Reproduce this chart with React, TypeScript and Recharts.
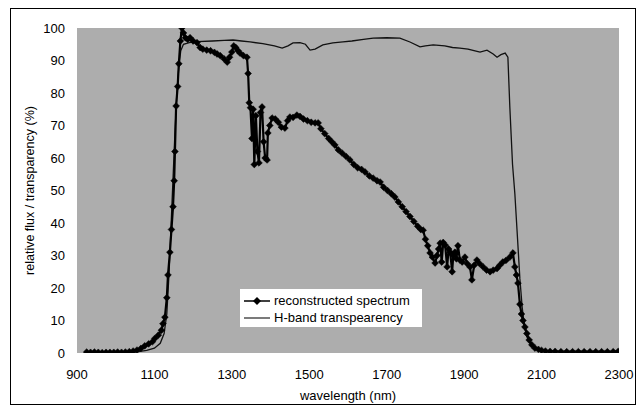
import React from 'react';
import { LineChart, Line, XAxis, YAxis, CartesianGrid } from 'recharts';

const specWl = [925, 935, 945, 955, 965, 975, 985, 995, 1005, 1015, 1025, 1035, 1045, 1055, 1065, 1075, 1085, 1095, 1101, 1110, 1118, 1122, 1127, 1132, 1135, 1140, 1144, 1148, 1151, 1153, 1156, 1160, 1163, 1167, 1171, 1175, 1180, 1186, 1192, 1200, 1210, 1218, 1225, 1235, 1245, 1255, 1262, 1270, 1280, 1288, 1294, 1300, 1305, 1310, 1316, 1321, 1330, 1339, 1342, 1345, 1348, 1352, 1355, 1358, 1362, 1366, 1370, 1374, 1378, 1382, 1386, 1391, 1393, 1398, 1404, 1412, 1420, 1428, 1437, 1444, 1450, 1458, 1468, 1476, 1485, 1495, 1505, 1515, 1523, 1530, 1540, 1550, 1558, 1566, 1575, 1585, 1595, 1605, 1615, 1625, 1635, 1644, 1655, 1665, 1675, 1683, 1692, 1702, 1712, 1721, 1730, 1740, 1750, 1760, 1770, 1780, 1788, 1794, 1800, 1806, 1812, 1818, 1825, 1830, 1834, 1838, 1842, 1846, 1851, 1856, 1860, 1864, 1869, 1872, 1876, 1880, 1884, 1889, 1895, 1902, 1908, 1915, 1920, 1926, 1933, 1940, 1949, 1958, 1967, 1975, 1985, 1992, 2000, 2008, 2018, 2026, 2031, 2035, 2039, 2044, 2048, 2052, 2057, 2062, 2068, 2075, 2083, 2092, 2100, 2110, 2122, 2135, 2150, 2165, 2180, 2195, 2210, 2225, 2240, 2255, 2270, 2285, 2298];
const specVal = [0.3, 0.2, 0.3, 0.2, 0.1, 0.2, 0.2, 0.2, 0.3, 0.2, 0.3, 0.4, 0.6, 0.9, 1.4, 2.2, 2.8, 3.5, 4.5, 5.5, 7, 9, 11, 17, 24, 31, 38, 45, 53, 62, 76, 82, 89, 96, 100, 98.5, 97, 96.5, 97, 96, 95.5, 94, 93.5, 93.2, 93, 92.5, 92, 91.5, 90.5, 89.5, 91, 92.6, 94.5, 94, 93, 92.3, 91.5, 91, 86, 77, 75.5, 66, 75, 58, 73, 62, 58.5, 74, 75.7, 65, 60, 59.4, 67.7, 70, 72.3, 72, 71, 69.5, 69.2, 71.5, 72.6, 72.5, 73.2, 72.8, 72, 71.5, 71, 70.8, 70.8, 69, 67.5, 66, 65, 64, 62.5, 61.5, 60.5, 59.4, 58, 57, 56.5, 55.7, 54.5, 53.8, 53, 52.6, 51, 50, 49, 48, 46.5, 45, 43.5, 42, 40.5, 39, 38, 37.8, 35, 33, 30.8, 29.5, 27.7, 30, 32, 33.8, 28, 34, 33.2, 26.5, 32, 31, 25, 30, 31, 29, 33, 28.6, 28, 29.5, 27.5, 26.5, 22.5, 27, 28.6, 27.5, 26.5, 25.5, 25, 25.5, 26, 27, 28, 28.5, 29.5, 30.8, 26.5, 24, 21.5, 15, 12, 10, 8, 6, 4, 2.5, 1.5, 1.1, 0.8, 0.6, 0.5, 0.5, 0.4, 0.4, 0.4, 0.4, 0.4, 0.4, 0.4, 0.4, 0.4, 0.4, 0.5];

const hbandWl = [920, 960, 1000, 1050, 1080, 1100, 1115, 1125, 1132, 1138, 1145, 1152, 1158, 1163, 1168, 1175, 1190, 1210, 1250, 1280, 1303, 1325, 1347, 1380, 1410, 1430, 1445, 1458, 1476, 1490, 1502, 1515, 1535, 1561, 1587, 1610, 1640, 1665, 1700, 1734, 1760, 1786, 1800, 1820, 1850, 1870, 1889, 1910, 1941, 1959, 1975, 1985, 1995, 2006, 2013, 2018, 2025, 2031, 2038, 2044, 2050, 2056, 2062, 2070, 2080, 2095, 2110, 2150, 2200, 2250, 2300];
const hbandVal = [0.2, 0.2, 0.2, 0.3, 0.8, 1.5, 3, 6, 12, 25, 45, 65, 80, 88, 93, 95, 95.5, 95.8, 96, 96.2, 96.3, 96, 95.7, 95.2, 94.5, 93.8, 94.5, 95.4, 95.5, 95, 93.2, 93.5, 94.8, 95.4, 95.7, 96, 96.5, 96.9, 97, 96.9, 95.7, 94.2, 94.5, 94.8, 94.5, 94, 93.8, 93.5, 92.6, 93.2, 92, 91, 91.8, 92.3, 91, 75.7, 58, 49, 35, 22.8, 14, 8, 5, 3, 1.8, 1, 0.6, 0.4, 0.3, 0.3, 0.3];

const xTicks = [900, 1100, 1300, 1500, 1700, 1900, 2100, 2300];
const yTicks = [0, 10, 20, 30, 40, 50, 60, 70, 80, 90, 100];

const specData = specWl.map((w, i) => ({ wl: w, v: specVal[i] }));
const hbandData = hbandWl.map((w, i) => ({ wl: w, v: hbandVal[i] }));

const FONT = 'Liberation Sans, Arial, sans-serif';

const Diamond = (props: any) => {
  const { cx, cy, index } = props;
  if (cx == null || cy == null) return <g key={index} />;
  const s = 3.4;
  return (
    <path
      key={index}
      d={`M${cx},${cy - s}L${cx + s},${cy}L${cx},${cy + s}L${cx - s},${cy}Z`}
      fill="#000"
      stroke="#000"
      strokeWidth={0.5}
    />
  );
};

const LegendBox = () => (
  <div
    style={{
      position: 'absolute',
      left: 229,
      top: 280,
      background: '#fff',
      width: 182,
      height: 38,
      boxSizing: 'border-box',
      fontFamily: FONT,
      fontSize: 13,
      color: '#000',
      padding: '3px 0 0 3px',
      lineHeight: '17px',
    }}
  >
    <div style={{ display: 'flex', alignItems: 'center', height: 17 }}>
      <svg width={28} height={10} style={{ marginRight: 3 }}>
        <line x1={1} y1={5} x2={27} y2={5} stroke="#000" strokeWidth={1.5} />
        <path d="M14,1L18,5L14,9L10,5Z" fill="#000" />
      </svg>
      <span>reconstructed spectrum</span>
    </div>
    <div style={{ display: 'flex', alignItems: 'center', height: 17 }}>
      <svg width={28} height={10} style={{ marginRight: 3 }}>
        <line x1={1} y1={5} x2={27} y2={5} stroke="#222" strokeWidth={1.2} />
      </svg>
      <span>H-band transpearency</span>
    </div>
  </div>
);

export default function App() {
  return (
    <div
      style={{
        position: 'relative',
        marginLeft: 2,
        width: 626,
        height: 397,
        border: '1px solid #000',
        boxSizing: 'border-box',
        background: '#fff',
      }}
    >
      <LineChart
        width={624}
        height={395}
        margin={{ top: 19, right: 16, left: 0, bottom: 1 }}
      >
        <CartesianGrid horizontal={false} vertical={false} fill="#adadad" />
        <XAxis
          type="number"
          dataKey="wl"
          domain={[900, 2300]}
          ticks={xTicks}
          allowDataOverflow
          axisLine={false}
          tickLine={false}
          tickSize={6}
          tickMargin={11}
          height={50}
          tick={{ fill: '#000', fontSize: 13, fontFamily: FONT }}
          label={{
            value: 'wavelength (nm)',
            position: 'insideBottom',
            offset: 3,
            fill: '#000',
            fontSize: 13,
            fontFamily: FONT,
          }}
        />
        <YAxis
          type="number"
          domain={[0, 100]}
          ticks={yTicks}
          allowDataOverflow
          axisLine={false}
          tickLine={false}
          tickSize={6}
          tickMargin={6}
          width={66}
          tick={{ fill: '#000', fontSize: 13, fontFamily: FONT }}
          label={{
            value: 'relative flux / transparency (%)',
            angle: -90,
            position: 'insideLeft',
            offset: 19,
            fill: '#000',
            fontSize: 12.5,
            fontFamily: FONT,
            style: { textAnchor: 'middle' },
          }}
        />
        <Line
          data={hbandData}
          dataKey="v"
          name="H-band transpearency"
          stroke="#111"
          strokeWidth={1.3}
          dot={false}
          isAnimationActive={false}
          type="linear"
        />
        <Line
          data={specData}
          dataKey="v"
          name="reconstructed spectrum"
          stroke="#000"
          strokeWidth={2.2}
          dot={Diamond}
          isAnimationActive={false}
          type="linear"
        />
      </LineChart>
      <LegendBox />
    </div>
  );
}
